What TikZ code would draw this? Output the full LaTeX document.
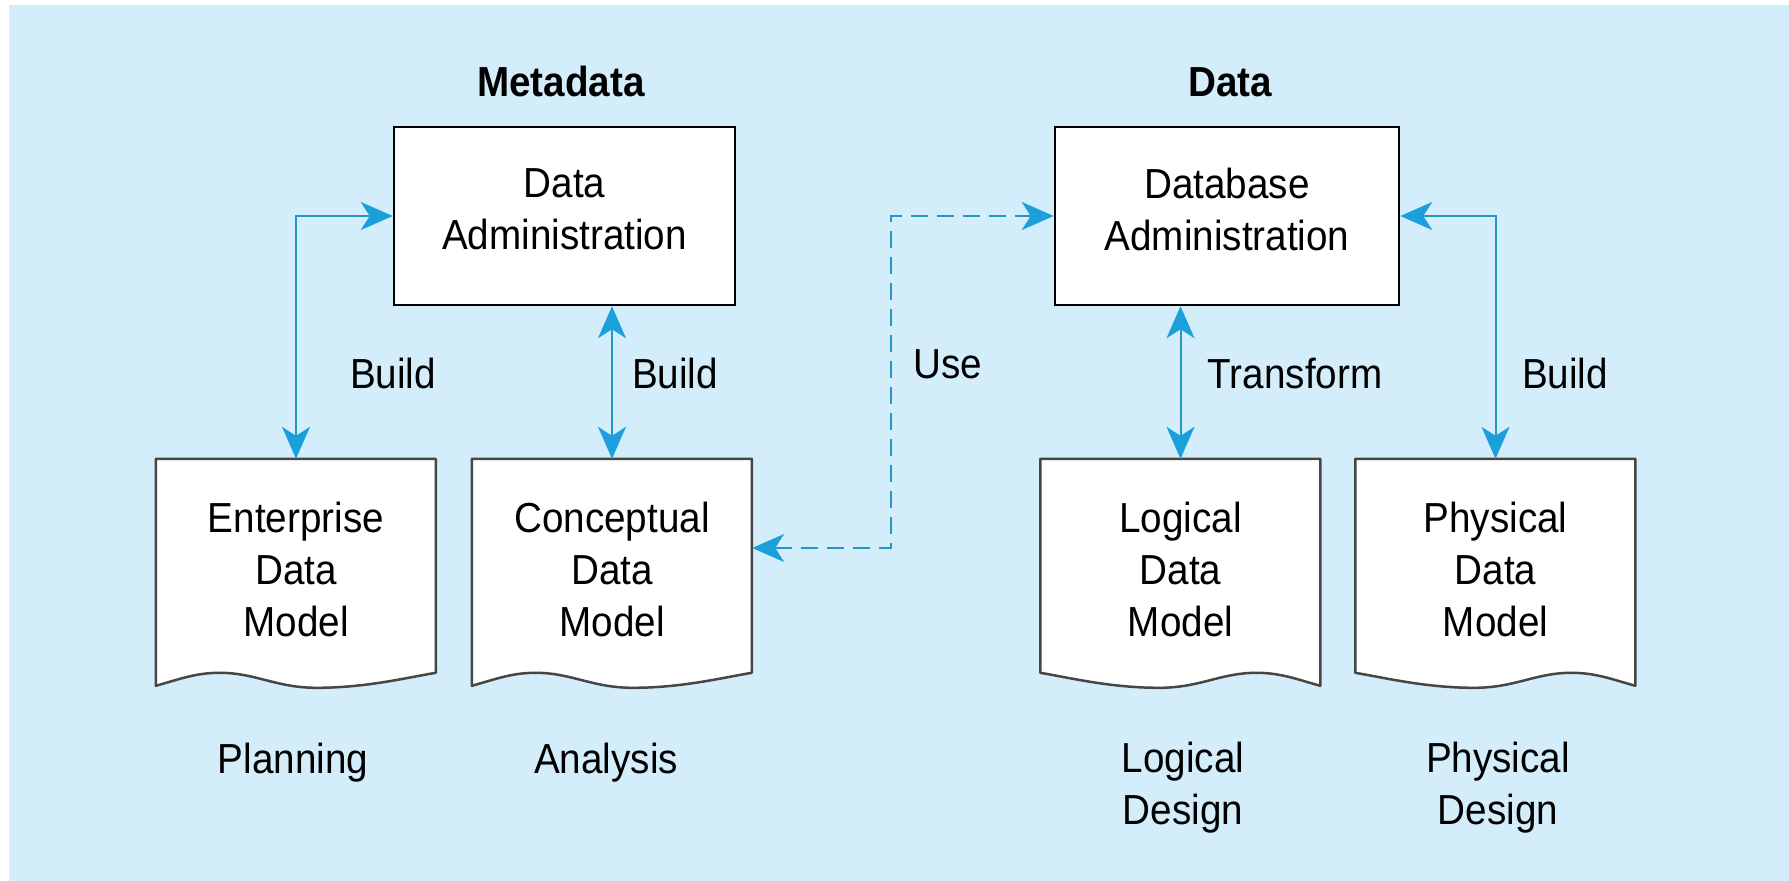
\documentclass[tikz,border=0pt]{standalone}
\usepackage{fontspec}
\setmainfont{Liberation Sans}[FakeStretch=0.92]
\usetikzlibrary{arrows.meta}
\definecolor{bgblue}{RGB}{212,237,250}
\definecolor{arrblue}{RGB}{27,160,220}
\definecolor{arrline}{RGB}{35,152,198}
\definecolor{docgray}{RGB}{70,70,70}
\begin{document}
\begin{tikzpicture}[x=1pt,y=-1pt,
  txt/.style={font=\fontsize{42}{52}\selectfont, inner sep=0pt, align=center},
  head/.style={font=\fontsize{42}{52}\selectfont\bfseries, inner sep=0pt, anchor=base},
  lbl/.style={font=\fontsize{42}{52}\selectfont, inner sep=0pt, anchor=base},
  box/.style={draw=black, line width=2.5pt, fill=white, minimum width=341pt, minimum height=178pt, inner sep=0pt},
  docnode/.style={minimum width=280pt, minimum height=228pt, inner sep=0pt},
  tip/.tip={Stealth[length=32pt,width=28pt,inset=9pt,color=arrblue]},
  conn/.style={draw=arrline, line width=2pt, tip-tip},
  dconn/.style={conn, dash pattern=on 17pt off 9pt},
  docL/.pic={
    \draw[docgray, line width=2.5pt, fill=white, line join=round]
      (0,0) -- (280,0) -- (280,214)
      .. controls (250,219) and (210,229) .. (161,229)
      .. controls (120,229) and (100,214) .. (64,214)
      .. controls (40,214) and (25,220) .. (0,227) -- cycle;
  },
  docR/.pic={
    \draw[docgray, line width=2.5pt, fill=white, line join=round]
      (0,0) -- (280,0) -- (280,227)
      .. controls (255,220) and (240,214) .. (216,214)
      .. controls (180,214) and (160,229) .. (119,229)
      .. controls (70,229) and (30,219) .. (0,214) -- cycle;
  }
]
\useasboundingbox (0,0) rectangle (1789,881);
\fill[bgblue] (9,5) rectangle (1789,881);

% headings
\node[head] (hmeta) at (561,96) {Metadata};
\node[head] (hdata) at (1230,96) {Data};

% administration boxes
\node[box] (DA) at (564.5,216) {};
\node[txt] (DAt) at ([yshift=7pt]DA.center) {Data\\Administration};
\node[box, minimum width=344pt] (DBA) at (1227,216) {};
\node[txt] (DBAt) at ([yshift=7pt]DBA.center) {Database\\Administration};

% documents
\node[docnode] (EDM) at (296,573) {};
\node[docnode] (CDM) at (612,573) {};
\node[docnode] (LDM) at (1180.5,573) {};
\node[docnode] (PDM) at (1495.5,573) {};
\pic at (EDM.north west) {docL};
\pic at (CDM.north west) {docL};
\pic at (LDM.north west) {docR};
\pic at (PDM.north west) {docR};
\node[txt] (EDMt) at ([yshift=4pt]EDM.center) {Enterprise\\Data\\Model};
\node[txt] (CDMt) at ([yshift=4pt]CDM.center) {Conceptual\\Data\\Model};
\node[txt] (LDMt) at ([yshift=4pt]LDM.center) {Logical\\Data\\Model};
\node[txt] (PDMt) at ([yshift=4pt]PDM.center) {Physical\\Data\\Model};

% connectors
\draw[conn] (DA.west) -| (EDM.north);
\draw[conn] (CDM.north |- DA.south) -- (CDM.north);
\coordinate (ubend) at (891,216);
\draw[dconn] ([yshift=25pt]CDM.east) -| (ubend) -- (DBA.west);
\draw[conn] (LDM.north |- DBA.south) -- (LDM.north);
\draw[conn] (DBA.east) -| (PDM.north);

% connector labels
\node[lbl] (b1) at (393,388) {Build};
\node[lbl] (b2) at (675,388) {Build};
\node[lbl] (use) at (948,378) {Use};
\node[lbl] (tr) at (1295,388) {Transform};
\node[lbl] (b3) at (1565,388) {Build};

% phase labels
\node[lbl] (plan) at (293,773) {Planning};
\node[lbl] (anal) at (606,773) {Analysis};
\node[txt] (ldes) at (1183,788) {Logical\\Design};
\node[txt] (pdes) at (1498,788) {Physical\\Design};
\end{tikzpicture}
\end{document}
